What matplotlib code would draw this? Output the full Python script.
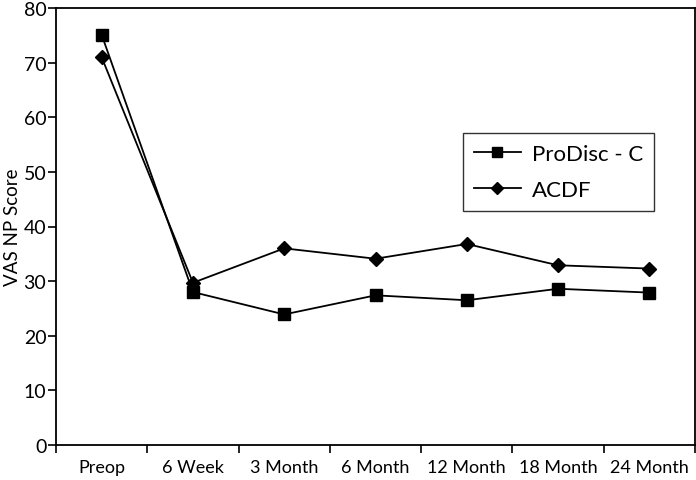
import numpy as np
import matplotlib
matplotlib.use("Agg")
import matplotlib.pyplot as plt

plt.rcParams['font.family'] = ['Lato', 'DejaVu Sans']

# VAS neck pain scores over follow-up
visits = ['Preop', '6 Week', '3 Month', '6 Month', '12 Month', '18 Month', '24 Month']
prodisc = [75.1, 28.0, 23.9, 27.4, 26.5, 28.6, 27.9]
acdf = [71.0, 29.7, 36.0, 34.1, 36.8, 32.9, 32.3]

fig = plt.figure(figsize=(6.96, 4.81), dpi=100)
ax = fig.add_axes([56 / 696, 35 / 481, 639 / 696, 437 / 481])

x = np.arange(len(visits))
ax.plot(x, prodisc, color='black', lw=1.3, marker='s', markersize=8.5,
        label='ProDisc - C')
ax.plot(x, acdf, color='black', lw=1.3, marker='D', markersize=7.5,
        label='ACDF')

ax.set_xlim(-0.5, len(visits) - 0.5)
ax.set_ylim(0, 80)
ax.set_yticks(np.arange(0, 81, 10))

# category labels centred, tick marks between categories
ax.set_xticks(x)
ax.set_xticklabels(visits, fontsize=13)
ax.set_xticks(np.arange(-0.5, len(visits), 1), minor=True)
ax.tick_params(axis='x', which='major', length=0, pad=10)
ax.tick_params(axis='x', which='minor', length=6, width=1.2, direction='out')
ax.tick_params(axis='y', length=6, width=1.2, direction='out', labelsize=14, pad=1)

for s in ax.spines.values():
    s.set_linewidth(1.3)
    s.set_color('black')

ax.set_ylabel('VAS NP Score', fontsize=13.5, labelpad=2)

leg = ax.legend(loc='upper left', bbox_to_anchor=(0.637, 0.714), borderaxespad=0,
                fontsize=16, frameon=True, fancybox=False, handlelength=2.1,
                handletextpad=0.5, borderpad=0.5, labelspacing=0.7,
                markerscale=0.8)
leg.get_frame().set_edgecolor('black')
leg.get_frame().set_linewidth(1.0)

fig.savefig('out.png', dpi=100)
